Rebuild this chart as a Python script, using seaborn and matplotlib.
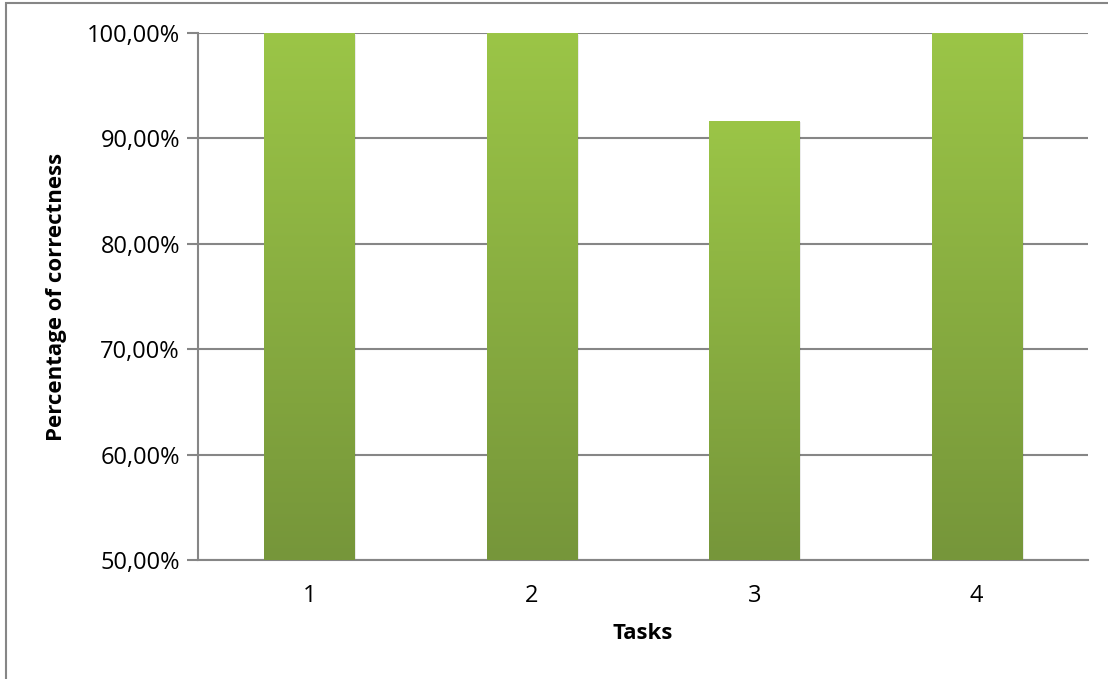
import numpy as np
import pandas as pd
import seaborn as sns
import matplotlib.pyplot as plt
from matplotlib.colors import LinearSegmentedColormap
from matplotlib.patches import Rectangle
from matplotlib.ticker import FuncFormatter

tasks = ['1', '2', '3', '4']
correctness = [100.0, 100.0, 91.67, 100.0]

df = pd.DataFrame({'Tasks': tasks, 'Correctness': correctness})

sns.set_style('white')
plt.rcParams['font.family'] = ['Open Sans', 'DejaVu Sans']
plt.rcParams['text.color'] = 'black'
plt.rcParams['axes.labelcolor'] = 'black'
plt.rcParams['xtick.color'] = 'black'
plt.rcParams['ytick.color'] = 'black'

fig = plt.figure(figsize=(11.08, 6.79), dpi=100)
ax = fig.add_axes([198 / 1108, 1 - 560 / 679, 890 / 1108, 527 / 679])

sns.barplot(data=df, x='Tasks', y='Correctness', color='#8ab042', width=0.405,
            ax=ax, zorder=3)

# vertical gradient fill like the Excel bars
cmap = LinearSegmentedColormap.from_list('grn', ['#76963a', '#9bc547'])
grad = np.linspace(0, 1, 256).reshape(-1, 1)
for bar in ax.patches:
    x0, y0 = bar.get_x(), bar.get_y()
    w, h = bar.get_width(), bar.get_height()
    # soft shadow
    ax.add_patch(Rectangle((x0 + 0.008, 50), w, y0 + h - 50 - 0.15,
                           facecolor='#000000', alpha=0.08, zorder=2,
                           edgecolor='none'))
    img = ax.imshow(grad, extent=[x0, x0 + w, 50, y0 + h], origin='lower',
                    cmap=cmap, aspect='auto', zorder=3)
    bar.set_alpha(0)
    img.set_clip_path(Rectangle((x0, 50), w, y0 + h - 50,
                                transform=ax.transData))
ax.set_xlim(-0.5, 3.5)
ax.set_ylim(50, 100)

ax.set_yticks([50, 60, 70, 80, 90, 100])
ax.yaxis.set_major_formatter(FuncFormatter(lambda v, p: f'{v:.2f}%'.replace('.', ',')))
ax.grid(axis='y', color='#868686', linewidth=1.5, zorder=0)
ax.set_axisbelow(True)

for s in ['top', 'right']:
    ax.spines[s].set_visible(False)
for s in ['left', 'bottom']:
    ax.spines[s].set_color('#868686')
    ax.spines[s].set_linewidth(1.5)

ax.tick_params(axis='y', length=8, width=1.5, color='#868686', direction='out',
               left=True, labelsize=17, pad=5, labelcolor='black')
ax.tick_params(axis='x', length=0, labelsize=17, pad=17, labelcolor='black')

ax.set_xlabel('Tasks', fontsize=16, fontweight='bold', labelpad=11)
ax.set_ylabel('Percentage of correctness', fontsize=16, fontweight='bold', labelpad=14)

# outer chart border
fig.patches.append(Rectangle((6 / 1108, -0.1), 1.2, 1 - 3 / 679 + 0.1,
                             transform=fig.transFigure, fill=False,
                             edgecolor='#868686', linewidth=1.5))

fig.savefig('out.png', dpi=100)
